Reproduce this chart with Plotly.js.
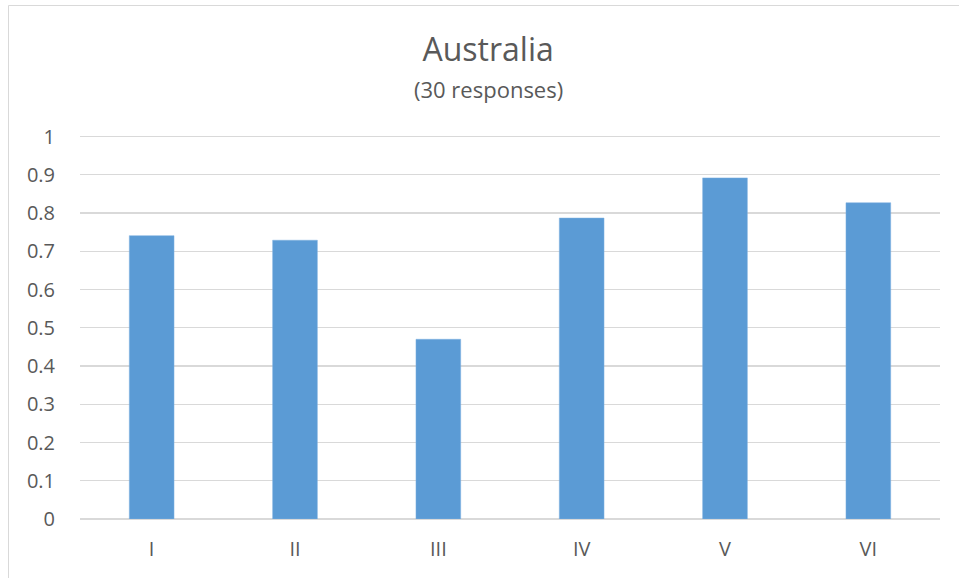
<!DOCTYPE html>
<html>
<head>
<meta charset="utf-8">
<script src="https://cdn.plot.ly/plotly-3.0.1.min.js"></script>
<style>
html, body { margin: 0; padding: 0; background: #fff; }
#chart { width: 959px; height: 578px; }
</style>
</head>
<body>
<div id="chart"></div>
<script>
const categories = ["I", "II", "III", "IV", "V", "VI"];
const values = [0.741, 0.729, 0.470, 0.787, 0.892, 0.827];
const yTicks = [0, 0.1, 0.2, 0.3, 0.4, 0.5, 0.6, 0.7, 0.8, 0.9, 1];
const yTickLabels = ["0", "0.1", "0.2", "0.3", "0.4", "0.5", "0.6", "0.7", "0.8", "0.9", "1"];
const titleText = "Australia";
const subtitleText = "(30 responses)";

const textColor = "#595959";
const gridColor = "#d9d9d9";
const font = "Open Sans, sans-serif";

const data = [{
  type: "bar",
  x: categories,
  y: values,
  marker: { color: "#5B9BD5", line: { color: "#7fb0e0", width: 0.5 } },
  hoverinfo: "x+y"
}];

const plotH = 578 - 131 - 59;

const layout = {
  width: 959,
  height: 578,
  margin: { l: 80, r: 19, t: 131, b: 59, pad: 0 },
  paper_bgcolor: "#ffffff",
  plot_bgcolor: "#ffffff",
  showlegend: false,
  bargap: 0.688,
  font: { family: font, color: textColor, size: 20 },
  title: {
    text: titleText,
    font: { family: font, size: 32, color: textColor },
    xref: "container", x: 0.509, xanchor: "center",
    yref: "container", y: 1 - 50 / 578, yanchor: "middle"
  },
  annotations: [{
    text: subtitleText,
    xref: "paper", yref: "paper",
    x: (488 - 80) / 860, y: (578 - 59 - 89) / plotH,
    xanchor: "center", yanchor: "middle",
    showarrow: false,
    font: { family: font, size: 22, color: textColor }
  }],
  xaxis: {
    type: "category",
    showgrid: false,
    showline: false,
    zeroline: false,
    ticks: "",
    ticklabelstandoff: 16,
    tickfont: { family: font, size: 20, color: textColor },
    fixedrange: true
  },
  yaxis: {
    range: [0, 1.0146],
    tickvals: yTicks,
    ticktext: yTickLabels,
    showgrid: true,
    gridcolor: gridColor,
    gridwidth: 1.2,
    zeroline: true,
    zerolinecolor: gridColor,
    zerolinewidth: 1.2,
    showline: false,
    ticks: "",
    ticklabelstandoff: 24,
    tickfont: { family: font, size: 20, color: textColor },
    fixedrange: true
  },
  shapes: [{
    type: "rect",
    xref: "paper", yref: "paper",
    x0: (8.5 - 80) / 860, x1: 1.1,
    y0: -0.3, y1: (578 - 59 - 5.5) / plotH,
    line: { color: gridColor, width: 1 },
    fillcolor: "rgba(0,0,0,0)",
    layer: "below"
  }]
};

Plotly.newPlot("chart", data, layout, { displayModeBar: false, staticPlot: true });
</script>
</body>
</html>
